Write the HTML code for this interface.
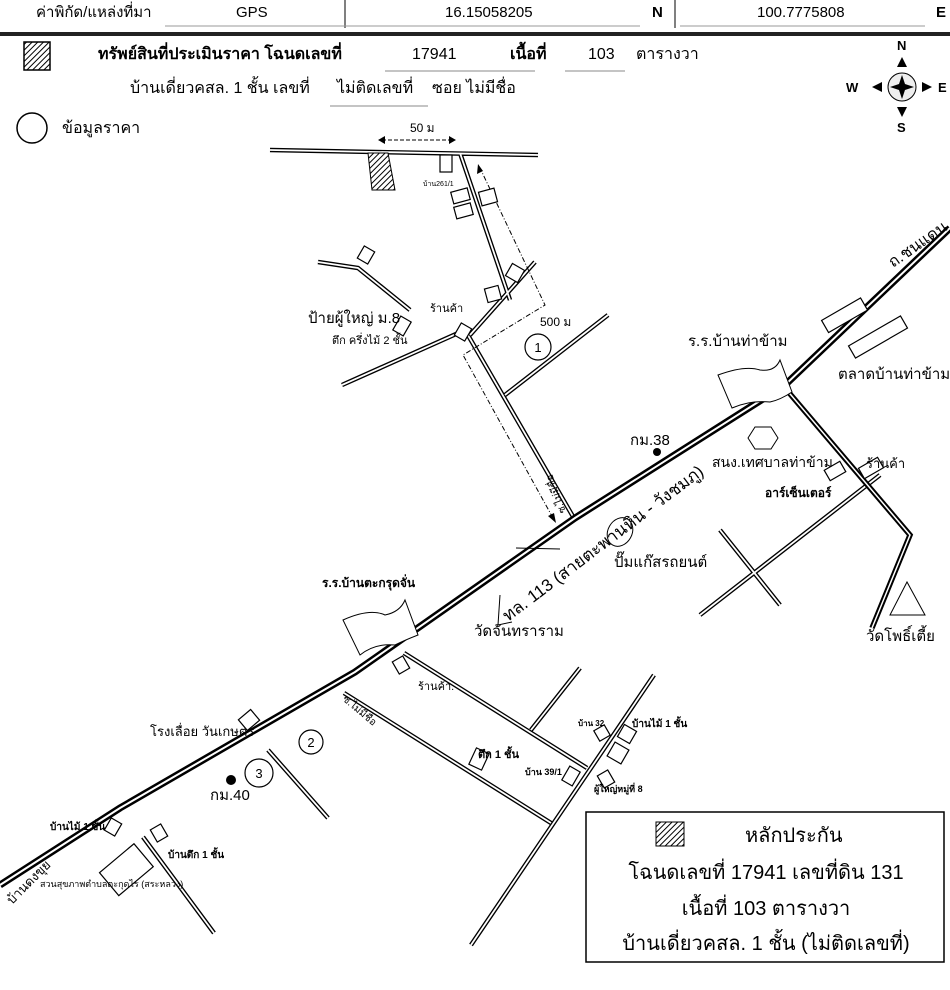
<!DOCTYPE html>
<html><head><meta charset="utf-8"><style>
html,body{margin:0;padding:0;background:#fff;}
svg{display:block;font-family:"Liberation Sans","Noto Sans CJK SC",sans-serif;}
</style></head><body>
<svg width="950" height="990" viewBox="0 0 950 990" xmlns="http://www.w3.org/2000/svg">
<defs>
<pattern id="h" width="4" height="4" patternUnits="userSpaceOnUse" patternTransform="rotate(45)"><rect width="4" height="4" fill="#fff"/><line x1="0" y1="0" x2="0" y2="4" stroke="#000" stroke-width="2"/></pattern>
<path id="main" d="M0,885 L120,808 L355,672 L575,518 L785,385 L950,228"/>
<path id="rd" d="M270,150 L538,155 M460,153 L510,300 M470,335 L535,262 M342,385 L465,330 L575,520 M318,262 L358,268 L410,310 M505,395 L608,315 M700,615 L880,475 M720,530 L780,605 M580,668 L531,730 M344,693 L551,823 M404,653 L587,768 M654,675 L471,945 M268,750 L328,818 M143,837 L214,933"/>
<path id="thk" d="M785,388 L910,535 L872,628"/>
</defs>
<g font-size="15" fill="#000">
<text x="36" y="17">ค่าพิกัด/แหล่งที่มา</text>
<text x="236" y="17">GPS</text>
<text x="445" y="17">16.15058205</text>
<text x="652" y="17" font-weight="bold">N</text>
<text x="757" y="17">100.7775808</text>
<text x="936" y="17" font-weight="bold">E</text>
</g>
<line x1="345" y1="0" x2="345" y2="28" stroke="#000"/>
<line x1="675" y1="0" x2="675" y2="28" stroke="#000"/>
<line x1="165" y1="26" x2="640" y2="26" stroke="#999"/>
<line x1="680" y1="26" x2="925" y2="26" stroke="#999"/>
<rect x="0" y="32" width="950" height="4" fill="#222"/>
<rect x="24" y="42" width="26" height="28" fill="url(#h)" stroke="#000" stroke-width="1.5"/>
<g font-size="16">
<text x="98" y="59" font-weight="bold">ทรัพย์สินที่ประเมินราคา โฉนดเลขที่</text>
<text x="412" y="59">17941</text>
<text x="510" y="59" font-weight="bold">เนื้อที่</text>
<text x="588" y="59">103</text>
<text x="636" y="59">ตารางวา</text>
<text x="130" y="93">บ้านเดี่ยวคสล. 1 ชั้น  เลขที่</text>
<text x="337" y="93">ไม่ติดเลขที่</text>
<text x="432" y="93">ซอย  ไม่มีชื่อ</text>
<text x="62" y="133">ข้อมูลราคา</text>
</g>
<line x1="385" y1="71" x2="535" y2="71" stroke="#888"/>
<line x1="565" y1="71" x2="625" y2="71" stroke="#888"/>
<line x1="330" y1="106" x2="428" y2="106" stroke="#888"/>
<circle cx="32" cy="128" r="15" fill="none" stroke="#000" stroke-width="1.5"/>
<g transform="translate(902,87)">
<circle r="14" fill="#eee" stroke="#000"/>
<path d="M0,-12 L4,0 L0,12 L-4,0Z M-12,0 L0,-4 L12,0 L0,4Z" fill="#000"/>
<path d="M-5,-20 L5,-20 L0,-30Z M-5,20 L5,20 L0,30Z M-20,-5 L-20,5 L-30,0Z M20,-5 L20,5 L30,0Z" fill="#000"/>
<text x="-5" y="-37" font-size="13" font-weight="bold">N</text>
<text x="-5" y="45" font-size="13" font-weight="bold">S</text>
<text x="-56" y="5" font-size="13" font-weight="bold">W</text>
<text x="36" y="5" font-size="13" font-weight="bold">E</text>
</g>
<use href="#rd" stroke="#000" stroke-width="4.5" fill="none"/>
<use href="#rd" stroke="#fff" stroke-width="1.8" fill="none"/>
<use href="#thk" stroke="#000" stroke-width="5.5" fill="none"/>
<use href="#thk" stroke="#fff" stroke-width="1.5" fill="none"/>
<use href="#main" stroke="#000" stroke-width="7" fill="none"/>
<use href="#main" stroke="#fff" stroke-width="2" fill="none"/>
<line x1="516" y1="548" x2="560" y2="549" stroke="#000"/>
<text x="410" y="132" font-size="12">50 ม</text>
<line x1="382" y1="140" x2="452" y2="140" stroke="#000" stroke-dasharray="4,2"/>
<path d="M378,140 l7,-4 v8z M456,140 l-7,-4 v8z"/>
<path d="M553,518 L463,355 L545,305 L480,168" fill="none" stroke="#000" stroke-dasharray="5,2,1,2"/>
<path d="M556,523 l-8,-7 l6,-3z M478,164 l-1,10 l6,-3z"/>
<text x="540" y="326" font-size="12">500 ม</text>
<path d="M368,153 L388,153 L395,190 L372,190Z" fill="url(#h)" stroke="#000"/>
<g fill="#fff" stroke="#000" stroke-width="1.2">
<rect x="440" y="155" width="12" height="17"/>
<rect x="452" y="190" width="17" height="12" transform="rotate(-15 460 196)"/>
<rect x="455" y="205" width="17" height="12" transform="rotate(-15 463 211)"/>
<rect x="480" y="190" width="16" height="14" transform="rotate(-15 488 197)"/>
<rect x="360" y="248" width="12" height="14" transform="rotate(30 366 255)"/>
<rect x="508" y="266" width="14" height="14" transform="rotate(30 515 273)"/>
<rect x="486" y="287" width="14" height="14" transform="rotate(-15 493 294)"/>
<rect x="457" y="325" width="12" height="14" transform="rotate(30 463 332)"/>
<rect x="396" y="318" width="12" height="16" transform="rotate(30 402 326)"/>
<rect x="822" y="308" width="45" height="14" transform="rotate(-30 845 315)"/>
<rect x="848" y="330" width="60" height="14" transform="rotate(-30 878 337)"/>
<rect x="826" y="465" width="18" height="12" transform="rotate(-30 835 471)"/>
<rect x="860" y="462" width="22" height="12" transform="rotate(-30 871 468)"/>
<rect x="395" y="658" width="12" height="14" transform="rotate(-30 401 665)"/>
<rect x="241" y="713" width="16" height="14" transform="rotate(-40 249 720)"/>
<rect x="472" y="750" width="14" height="18" transform="rotate(25 479 759)"/>
<rect x="565" y="768" width="12" height="16" transform="rotate(30 571 776)"/>
<rect x="596" y="727" width="12" height="12" transform="rotate(-30 602 733)"/>
<rect x="620" y="727" width="14" height="14" transform="rotate(30 627 734)"/>
<rect x="610" y="745" width="16" height="16" transform="rotate(30 618 753)"/>
<rect x="600" y="772" width="12" height="14" transform="rotate(-30 606 779)"/>
<rect x="107" y="820" width="12" height="14" transform="rotate(30 113 827)"/>
<rect x="153" y="826" width="12" height="14" transform="rotate(-30 159 833)"/>
<rect x="104" y="855" width="45" height="30" transform="rotate(-40 126 870)"/>
</g>
<path d="M718,375 Q745,365 760,370 Q775,372 780,360 L792,392 Q780,400 770,402 Q750,400 732,408Z" fill="#fff" stroke="#000"/>
<path d="M343,620 Q370,608 385,615 Q400,612 405,600 L418,635 Q405,640 395,645 Q375,643 360,655Z" fill="#fff" stroke="#000"/>
<polygon points="755,427 771,427 778,438 771,449 755,449 748,438" fill="#fff" stroke="#000"/>
<ellipse cx="620" cy="532" rx="12" ry="15" transform="rotate(30 620 532)" fill="#fff" stroke="#000"/>
<polygon points="890,615 925,615 907,582" fill="#fff" stroke="#000"/>
<path d="M500,595 L498,625 L512,622" fill="none" stroke="#000"/>
<circle cx="657" cy="452" r="4"/>
<circle cx="231" cy="780" r="5"/>
<g fill="#fff" stroke="#000" stroke-width="1.2">
<circle cx="538" cy="347" r="13"/><circle cx="311" cy="742" r="12"/><circle cx="259" cy="773" r="14"/>
</g>
<g font-size="13" text-anchor="middle"><text x="538" y="352">1</text><text x="311" y="747">2</text><text x="259" y="778">3</text></g>
<g font-size="15">
<text x="688" y="346">ร.ร.บ้านท่าข้าม</text>
<text x="838" y="379">ตลาดบ้านท่าข้าม</text>
<text x="630" y="445">กม.38</text>
<text x="712" y="467" font-size="14">สนง.เทศบาลท่าข้าม</text>
<text x="866" y="468" font-size="13">ร้านค้า</text>
<text x="614" y="567">ปั๊มแก๊สรถยนต์</text>
<text x="474" y="636">วัดจันทราราม</text>
<text x="866" y="641">วัดโพธิ์เตี้ย</text>
<text x="308" y="323">ป้ายผู้ใหญ่ ม.8</text>
<text x="210" y="800">กม.40</text>
</g>
<text x="893" y="268" font-size="16" transform="rotate(-35 893 268)">ถ.ชนแดน</text>
<text x="508" y="622" font-size="17" transform="rotate(-37 508 622)">ทล. 113 (สายตะพานหิน - วังชมภู)</text>
<text x="765" y="497" font-size="12" font-weight="bold">อาร์เซ็นเตอร์</text>
<text x="322" y="587" font-size="12" font-weight="bold">ร.ร.บ้านตะกรุดจั่น</text>
<text x="332" y="344" font-size="11">ตึก ครึ่งไม้ 2 ชั้น</text>
<text x="430" y="312" font-size="11">ร้านค้า</text>
<text x="423" y="186" font-size="7">บ้าน261/1</text>
<text x="418" y="690" font-size="11">ร้านค้า.</text>
<text x="342" y="700" font-size="10" transform="rotate(40 342 700)">ซ.ไม่มีชื่อ</text>
<text x="566" y="512" font-size="10" transform="rotate(-110 566 512)">ซ.ไม่มีชื่อ</text>
<text x="150" y="736" font-size="13">โรงเลื่อย วันเกษตร</text>
<text x="478" y="758" font-size="11" font-weight="bold">ตึก 1 ชั้น</text>
<text x="525" y="775" font-size="9" font-weight="bold">บ้าน 39/1</text>
<text x="578" y="726" font-size="8" font-weight="bold">บ้าน 32</text>
<text x="632" y="727" font-size="10" font-weight="bold">บ้านไม้ 1 ชั้น</text>
<text x="594" y="792" font-size="9" font-weight="bold">ผู้ใหญ่หมู่ที่ 8</text>
<text x="50" y="830" font-size="10" font-weight="bold">บ้านไม้ 1 ชั้น</text>
<text x="168" y="858" font-size="10" font-weight="bold">บ้านตึก 1 ชั้น</text>
<text x="40" y="887" font-size="9">สวนสุขภาพตำบลตะกุดไร (สระหลวง)</text>
<text x="12" y="905" font-size="13" transform="rotate(-45 12 905)">บ้านดงขุย</text>
<rect x="586" y="812" width="358" height="150" fill="#fff" stroke="#000" stroke-width="1.5"/>
<rect x="656" y="822" width="28" height="24" fill="url(#h)" stroke="#000"/>
<g font-size="20" text-anchor="middle">
<text x="745" y="842" text-anchor="start">หลักประกัน</text>
<text x="766" y="879">โฉนดเลขที่ 17941 เลขที่ดิน 131</text>
<text x="766" y="915">เนื้อที่ 103 ตารางวา</text>
<text x="766" y="950">บ้านเดี่ยวคสล. 1 ชั้น  (ไม่ติดเลขที่)</text>
</g>
</svg>
</body></html>
